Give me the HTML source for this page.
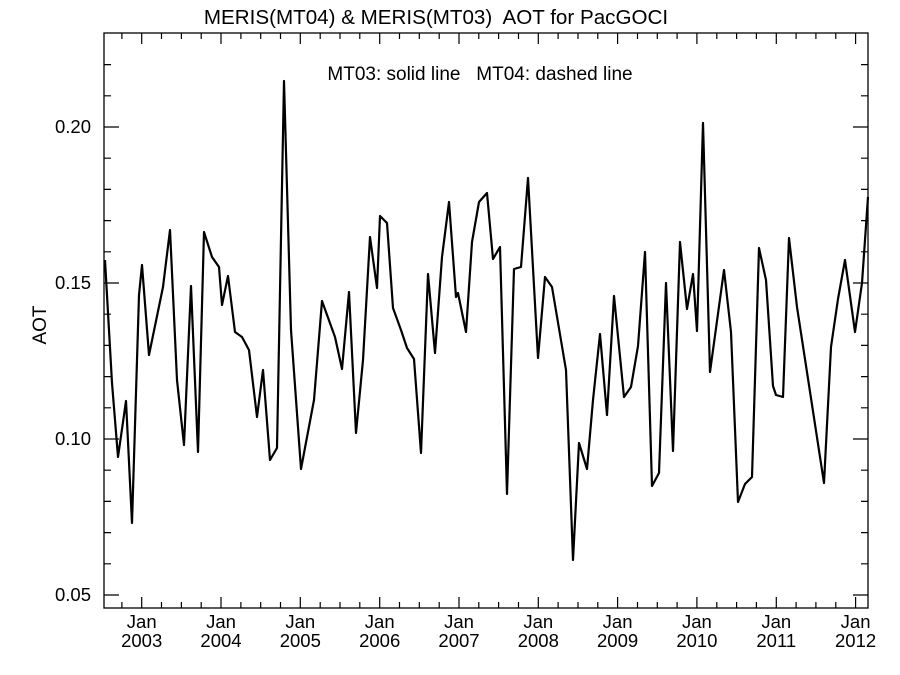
<!DOCTYPE html>
<html><head><style>html,body{margin:0;padding:0;background:#fff;}svg{display:block;}</style></head>
<body>
<svg width="900" height="675" xmlns="http://www.w3.org/2000/svg" font-family="Liberation Sans, sans-serif">
<rect width="900" height="675" fill="#fff"/>
<text x="436" y="24" font-size="20.6" text-anchor="middle" fill="#000" xml:space="preserve">MERIS(MT04) &amp; MERIS(MT03)  AOT for PacGOCI</text>
<text x="480" y="80" font-size="19" text-anchor="middle" fill="#000" xml:space="preserve">MT03: solid line   MT04: dashed line</text>
<rect x="104" y="33" width="764" height="575" fill="none" stroke="#000" stroke-width="1.3"/>
<path stroke="#000" stroke-width="1.2" fill="none" d="
M104 595h15M104 563.8h7M104 532.6h7M104 501.4h7M104 470.2h7M104 439h15M104 407.8h7M104 376.6h7M104 345.4h7M104 314.2h7M104 283h15M104 251.8h7M104 220.6h7M104 189.4h7M104 158.2h7M104 127h15M104 95.8h7M104 64.6h7
M868 595h-15M868 563.8h-7M868 532.6h-7M868 501.4h-7M868 470.2h-7M868 439h-15M868 407.8h-7M868 376.6h-7M868 345.4h-7M868 314.2h-7M868 283h-15M868 251.8h-7M868 220.6h-7M868 189.4h-7M868 158.2h-7M868 127h-15M868 95.8h-7M868 64.6h-7
M121.9 608v-6M141.7 608v-11M161.5 608v-6M181.4 608v-6M201.2 608v-6M221 608v-11M240.9 608v-6M260.7 608v-6M280.5 608v-6M300.3 608v-11M320.2 608v-6M340 608v-6M359.8 608v-6M379.7 608v-11M399.5 608v-6M419.3 608v-6M439.2 608v-6M459 608v-11M478.8 608v-6M498.6 608v-6M518.5 608v-6M538.3 608v-11M558.1 608v-6M578 608v-6M597.8 608v-6M617.6 608v-11M637.5 608v-6M657.3 608v-6M677.1 608v-6M696.9 608v-11M716.8 608v-6M736.6 608v-6M756.4 608v-6M776.3 608v-11M796.1 608v-6M815.9 608v-6M835.8 608v-6M855.6 608v-11
M121.9 33v6M141.7 33v11M161.5 33v6M181.4 33v6M201.2 33v6M221 33v11M240.9 33v6M260.7 33v6M280.5 33v6M300.3 33v11M320.2 33v6M340 33v6M359.8 33v6M379.7 33v11M399.5 33v6M419.3 33v6M439.2 33v6M459 33v11M478.8 33v6M498.6 33v6M518.5 33v6M538.3 33v11M558.1 33v6M578 33v6M597.8 33v6M617.6 33v11M637.5 33v6M657.3 33v6M677.1 33v6M696.9 33v11M716.8 33v6M736.6 33v6M756.4 33v6M776.3 33v11M796.1 33v6M815.9 33v6M835.8 33v6M855.6 33v11"/>
<g font-size="18.5" text-anchor="end" fill="#000">
<text x="91" y="133">0.20</text>
<text x="91" y="289">0.15</text>
<text x="91" y="445">0.10</text>
<text x="91" y="601">0.05</text>
</g>
<text transform="translate(46,325) rotate(-90)" font-size="19" text-anchor="middle" fill="#000">AOT</text>
<g font-size="18.5" text-anchor="middle" fill="#000">
<text x="141.7" y="628">Jan</text><text x="141.7" y="647">2003</text>
<text x="221" y="628">Jan</text><text x="221" y="647">2004</text>
<text x="300.3" y="628">Jan</text><text x="300.3" y="647">2005</text>
<text x="379.7" y="628">Jan</text><text x="379.7" y="647">2006</text>
<text x="459" y="628">Jan</text><text x="459" y="647">2007</text>
<text x="538.3" y="628">Jan</text><text x="538.3" y="647">2008</text>
<text x="617.6" y="628">Jan</text><text x="617.6" y="647">2009</text>
<text x="696.9" y="628">Jan</text><text x="696.9" y="647">2010</text>
<text x="776.3" y="628">Jan</text><text x="776.3" y="647">2011</text>
<text x="855.6" y="628">Jan</text><text x="855.6" y="647">2012</text>
</g>
<polyline fill="none" stroke="#000" stroke-width="2.2" stroke-linejoin="round" points="105,260 112,383 118,457 126,401 132,523 139,295 142,265 149,355 163,287 170,230 177,380 184,445 191,286 198,452 204,232 212,257 219,267 222,305 228,276 235,332 242,337 249,350 257,417 263,370 270,460 277,448 284,81 291,330 301,469 314,400 322,301 335,337 342,369 349,292 356,433 363,360 370,237 377,288 380,216 387,223 393,308 401,330 407,348 414,359 421,453 428,274 435,353 442,257 449,202 456,297 458,293 466,332 472,242 479,202 487,193 493,259 500,247 507,494 514,269 521,267 528,178 538,358 545,277 552,287 566,370 573,560 579,443 587,469 593,400 600,334 607,415 614,296 624,397 631,387 638,346 645,252 652,486 659,473 666,283 673,451 680,242 687,309 693,274 697,331 703,123 710,372 724,270 731,332 738,502 745,484 752,477 759,248 766,280 773,386 776,395 783,397 789,238 797,307 824,483 831,347 838,299 845,260 855,332 862,283 868,197"/>
</svg>
</body></html>
